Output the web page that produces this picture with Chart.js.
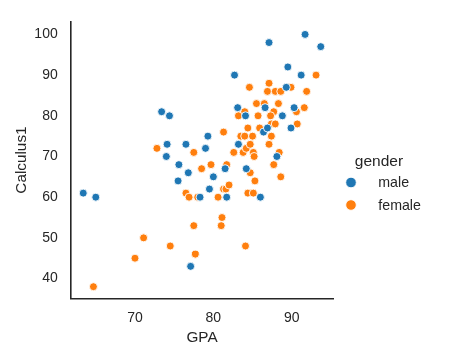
<!DOCTYPE html>
<html>
<head>
<meta charset="utf-8">
<script src="https://cdn.jsdelivr.net/npm/chart.js@4.4.0/dist/chart.umd.min.js"></script>
<style>
  html, body { margin: 0; padding: 0; background: #ffffff; }
  #wrap { width: 470px; height: 355px; position: relative; }
</style>
</head>
<body>
<div id="wrap"><canvas id="c" width="470" height="355"></canvas></div>
<script>
const xTitle = "GPA";
const yTitle = "Calculus1";
const legendTitle = "gender";
const seriesNames = ["male", "female"];
const xTicks = [70, 80, 90];
const yTicks = [40, 50, 60, 70, 80, 90, 100];

const maleGPA = [63.4, 65.0, 73.4, 74.4, 74.1, 74.0, 75.6, 75.5, 76.5, 76.8, 79.3, 79.0, 80.0, 79.5, 78.3, 77.1, 81.5, 81.7, 82.7, 83.1, 84.1, 83.2, 84.2, 86.0, 87.1, 86.6, 86.4, 86.9, 88.1, 88.8, 89.5, 89.3, 90.3, 89.9, 91.2, 91.7, 93.7];
const maleCalc = [61, 60, 81, 80, 73, 70, 68, 64, 73, 66, 75, 72, 65, 62, 60, 43, 67, 60, 90, 82, 80, 73, 67, 60, 98, 82, 76, 77, 70, 80, 92, 87, 82, 77, 90, 100, 97];

const femaleGPA = [64.7, 70.0, 71.1, 72.8, 74.5, 76.5, 76.9, 77.5, 77.5, 77.7, 78.0, 78.5, 79.7, 80.6, 81.1, 81.0, 81.3, 81.3, 81.6, 81.7, 82.0, 82.6, 83.2, 83.8, 84.0, 83.5, 84.0, 84.4, 84.2, 84.7, 84.6, 84.1, 84.4, 84.7, 85.0, 85.1, 85.2, 85.3, 85.1, 85.5, 85.7, 85.9, 86.5, 87.1, 86.9, 87.9, 88.6, 87.7, 87.3, 87.4, 87.9, 87.4, 87.1, 87.7, 88.3, 88.4, 88.6, 89.9, 90.6, 90.7, 91.6, 91.9, 93.1];
const femaleCalc = [38, 45, 50, 72, 48, 61, 60, 71, 53, 46, 60, 67, 68, 60, 55, 53, 76, 62, 62, 68, 63, 71, 80, 71, 81, 75, 75, 77, 72, 73, 87, 48, 61, 66, 75, 71, 70, 64, 61, 83, 80, 77, 83, 88, 86, 86, 86, 81, 80, 78, 78, 75, 73, 68, 83, 71, 65, 87, 81, 78, 82, 86, 90];

const colors = ["#1f77b4", "#ff7f0e"];
const textColor = "#262626";
const FONT = "'Liberation Sans', Arial, sans-serif";

function pts(xs, ys) { return xs.map((x, i) => ({ x: x, y: ys[i] })); }

const legendPlugin = {
  id: 'sideLegend',
  afterDraw(chart) {
    const ctx = chart.ctx;
    ctx.save();
    ctx.fillStyle = textColor;
    ctx.font = "15.5px " + FONT;
    ctx.textAlign = "center";
    ctx.textBaseline = "alphabetic";
    ctx.fillText(legendTitle, 379, 165.5);
    const rows = [187, 209.5];
    const markY = [182.5, 205];
    chart.data.datasets.forEach((ds, i) => {
      ctx.beginPath();
      ctx.arc(351, markY[i], 5.3, 0, Math.PI * 2);
      ctx.fillStyle = ds.backgroundColor;
      ctx.fill();
      ctx.lineWidth = 0.9;
      ctx.strokeStyle = "#ffffff";
      ctx.stroke();
      ctx.fillStyle = textColor;
      ctx.font = "14.2px " + FONT;
      ctx.textAlign = "left";
      ctx.fillText(ds.label, 378.3, rows[i]);
    });
    ctx.restore();
  }
};

new Chart(document.getElementById("c"), {
  type: "scatter",
  data: {
    datasets: [
      { label: seriesNames[0], data: pts(maleGPA, maleCalc), backgroundColor: colors[0], borderColor: "#ffffff", borderWidth: 0.9, pointRadius: 4, pointHoverRadius: 4 },
      { label: seriesNames[1], data: pts(femaleGPA, femaleCalc), backgroundColor: colors[1], borderColor: "#ffffff", borderWidth: 0.9, pointRadius: 4, pointHoverRadius: 4 }
    ]
  },
  options: {
    responsive: false,
    animation: false,
    devicePixelRatio: 1,
    layout: { padding: { top: 19.3, right: 136.7, left: 0, bottom: 0 } },
    plugins: { legend: { display: false }, tooltip: { enabled: false } },
    scales: {
      x: {
        type: "linear",
        min: 61.8, max: 95.3,
        afterBuildTicks: (s) => { s.ticks = xTicks.map(v => ({ value: v })); },
        afterFit: (s) => { s.height = 56.3; },
        grid: { display: false, drawTicks: false },
        border: { display: true, color: textColor, width: 1.6 },
        ticks: { color: textColor, font: { family: FONT, size: 14 }, padding: 11, autoSkip: false, maxRotation: 0 },
        title: { display: true, text: xTitle, color: textColor, font: { family: FONT, size: 15.3 }, padding: { top: 0, bottom: 8.3 } }
      },
      y: {
        type: "linear",
        min: 35.05, max: 103.2,
        afterBuildTicks: (s) => { s.ticks = yTicks.map(v => ({ value: v })); },
        afterFit: (s) => { s.width = 70.7; },
        grid: { display: false, drawTicks: false },
        border: { display: true, color: textColor, width: 1.6 },
        ticks: { color: textColor, font: { family: FONT, size: 14 }, padding: 13, autoSkip: false },
        title: { display: true, text: yTitle, color: textColor, font: { family: FONT, size: 15.3 }, padding: { top: 12.5, bottom: 0 } }
      }
    }
  },
  plugins: [legendPlugin]
});
</script>
</body>
</html>
